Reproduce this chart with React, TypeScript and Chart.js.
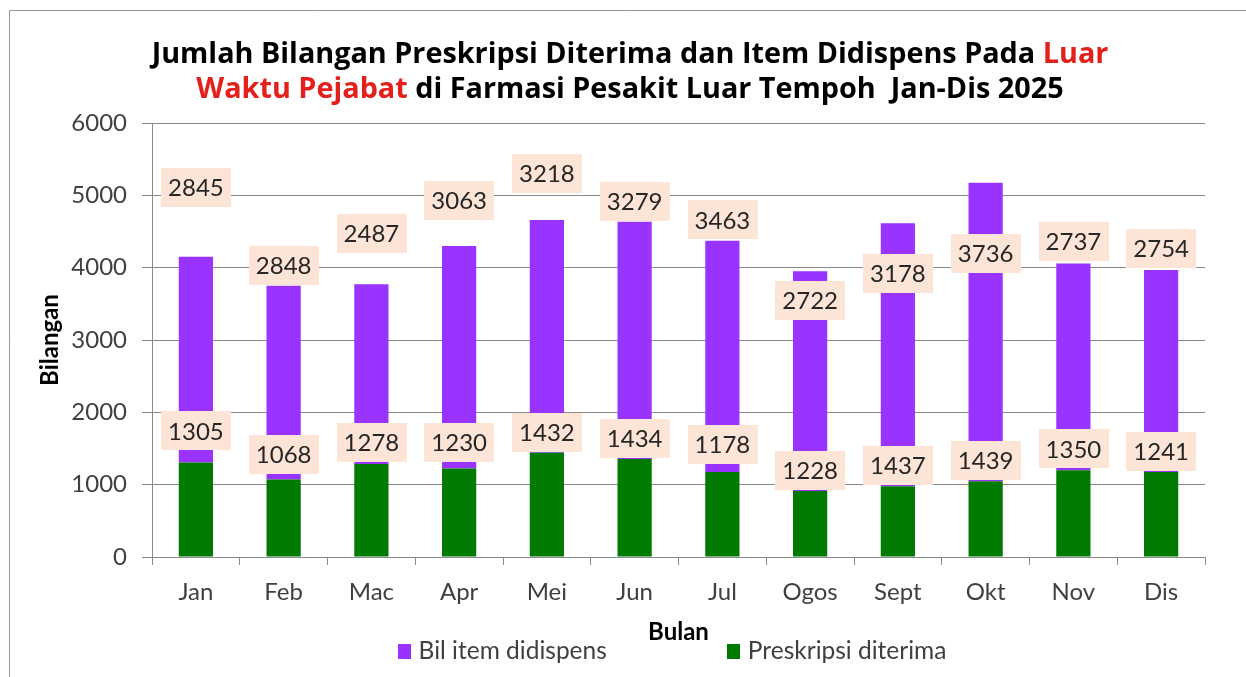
import React, { useEffect, useRef } from "react";
import { Chart, registerables } from "chart.js";

Chart.register(...registerables);

// ---- data ----
const months = ["Jan", "Feb", "Mac", "Apr", "Mei", "Jun", "Jul", "Ogos", "Sept", "Okt", "Nov", "Dis"];

// bar segment heights as drawn in the picture
const prescriptionBar = [1305, 1070, 1285, 1225, 1440, 1356, 1176, 913, 978, 1047, 1199, 1176];
const itemsBar = [2845, 2680, 2487, 3075, 3218, 3280, 3197, 3036, 3635, 4128, 2860, 2791];

// printed data labels
const prescriptionLabel = [1305, 1068, 1278, 1230, 1432, 1434, 1178, 1228, 1437, 1439, 1350, 1241];
const itemsLabel = [2845, 2848, 2487, 3063, 3218, 3279, 3463, 2722, 3178, 3736, 2737, 2754];

// where each label box sits (axis units)
const prescriptionLabelAt = [1744, 1417, 1587, 1583, 1721, 1638, 1559, 1200, 1264, 1338, 1495, 1463];
const itemsLabelAt = [5106, 4032, 4470, 4926, 5305, 4915, 4659, 3552, 3921, 4202, 4359, 4262];

const yMin = 0;
const yMax = 6000;
const yStep = 1000;

const seriesItems = "Bil item didispens";
const seriesPrescription = "Preskripsi diterima";
const xTitle = "Bulan";
const yTitle = "Bilangan";

const titleLines = [
  [
    { text: "Jumlah Bilangan Preskripsi Diterima dan Item Didispens Pada ", red: false },
    { text: "Luar", red: true },
  ],
  [
    { text: "Waktu Pejabat", red: true },
    { text: " di Farmasi Pesakit Luar Tempoh  Jan-Dis 2025", red: false },
  ],
];

// ---- styles ----
const FONT = "Lato, 'Noto Sans', sans-serif";
const TITLE_FONT = "'Open Sans', Lato, sans-serif";
const PURPLE = "#9933FF";
const GREEN = "#007A00";
const RED = "#E3201B";
const GRID = "#8A8A8A";
const TEXT = "#404040";
const LABEL_BG = "#FCE4D6";

const W = 1246;
const H = 677;

const framePlugin = {
  id: "frame",
  beforeDraw(chart: any) {
    const ctx = chart.ctx;
    ctx.save();
    ctx.fillStyle = "#ffffff";
    ctx.fillRect(0, 0, chart.width, chart.height);
    ctx.strokeStyle = "#9a9a9a";
    ctx.lineWidth = 1;
    ctx.beginPath();
    ctx.moveTo(9.5, chart.height);
    ctx.lineTo(9.5, 10.5);
    ctx.lineTo(chart.width, 10.5);
    ctx.stroke();
    ctx.restore();
  },
};

const titlePlugin = {
  id: "mixedTitle",
  afterDraw(chart: any) {
    const ctx = chart.ctx;
    ctx.save();
    ctx.font = `bold 28.8px ${TITLE_FONT}`;
    ctx.textBaseline = "alphabetic";
    ctx.textAlign = "left";
    const baselines = [63, 98];
    const cx = 630;
    titleLines.forEach((parts, li) => {
      const total = parts.reduce((s, p) => s + ctx.measureText(p.text).width, 0);
      let x = cx - total / 2;
      parts.forEach((p) => {
        ctx.fillStyle = p.red ? RED : "#000000";
        ctx.fillText(p.text, x, baselines[li]);
        x += ctx.measureText(p.text).width;
      });
    });
    ctx.restore();
  },
};

const labelPlugin = {
  id: "boxLabels",
  afterDatasetsDraw(chart: any) {
    const ctx = chart.ctx;
    const xs = chart.scales.x;
    const ys = chart.scales.y;
    ctx.save();
    ctx.font = `24px ${FONT}`;
    ctx.textAlign = "center";
    ctx.textBaseline = "middle";
    const draw = (txt: string, cx: number, cy: number) => {
      const w = ctx.measureText(txt).width + 14;
      const h = 39;
      ctx.fillStyle = LABEL_BG;
      ctx.fillRect(Math.round(cx - w / 2), Math.round(cy - h / 2), Math.round(w), h);
      ctx.fillStyle = "#262626";
      ctx.fillText(txt, cx, cy + 1);
    };
    months.forEach((_, i) => {
      const cx = xs.getPixelForValue(i);
      draw(String(prescriptionLabel[i]), cx, ys.getPixelForValue(prescriptionLabelAt[i]));
      draw(String(itemsLabel[i]), cx, ys.getPixelForValue(itemsLabelAt[i]));
    });
    ctx.restore();
  },
};

const legendPlugin = {
  id: "customLegend",
  afterDraw(chart: any) {
    const ctx = chart.ctx;
    ctx.save();
    ctx.font = `24.5px ${FONT}`;
    ctx.textBaseline = "middle";
    ctx.textAlign = "left";
    const items = [...chart.data.datasets].reverse().map((d: any) => ({
      label: d.label as string,
      color: d.backgroundColor as string,
    }));
    const box = 13;
    const gapBox = 8;
    const gapItem = 120;
    const widths = items.map((it) => box + gapBox + ctx.measureText(it.label).width);
    const total = widths.reduce((a, b) => a + b, 0) + gapItem * (items.length - 1);
    let x = 672 - total / 2;
    const cy = 651;
    items.forEach((it, i) => {
      ctx.fillStyle = it.color;
      ctx.fillRect(Math.round(x), cy - 7, box, 15);
      ctx.fillStyle = TEXT;
      ctx.fillText(it.label, x + box + gapBox, cy);
      x += widths[i] + gapItem;
    });
    ctx.restore();
  },
};

export default function App() {
  const ref = useRef<HTMLCanvasElement | null>(null);

  useEffect(() => {
    if (!ref.current) return;
    const chart = new Chart(ref.current, {
      type: "bar",
      data: {
        labels: months,
        datasets: [
          {
            label: seriesPrescription,
            data: prescriptionBar,
            backgroundColor: GREEN,
            borderWidth: 0,
            barPercentage: 0.39,
            categoryPercentage: 1,
          },
          {
            label: seriesItems,
            data: itemsBar,
            backgroundColor: PURPLE,
            borderWidth: 0,
            barPercentage: 0.39,
            categoryPercentage: 1,
          },
        ],
      },
      options: {
        responsive: false,
        animation: false,
        events: [],
        layout: { padding: { left: 0, right: 41, top: 123, bottom: 0 } },
        plugins: {
          legend: { display: false },
          title: { display: false },
          tooltip: { enabled: false },
        },
        scales: {
          x: {
            stacked: true,
            grid: {
              display: true,
              drawOnChartArea: false,
              drawTicks: true,
              tickLength: 8,
              color: GRID,
            },
            border: { display: true, color: GRID },
            ticks: {
              color: TEXT,
              font: { family: FONT, size: 24 },
              padding: 13,
              maxRotation: 0,
              autoSkip: false,
            },
            title: {
              display: true,
              text: xTitle,
              color: "#000000",
              font: { family: FONT, size: 24, weight: "bold" },
              padding: { top: 0, bottom: 30 },
            },
            afterFit: (s: any) => {
              s.height = 120;
            },
          },
          y: {
            stacked: true,
            min: yMin,
            max: yMax,
            grid: { color: GRID, tickLength: 10, drawTicks: true },
            border: { display: true, color: GRID },
            ticks: {
              stepSize: yStep,
              color: TEXT,
              font: { family: FONT, size: 24 },
              padding: 15,
              callback: (v: any) => String(v),
            },
            title: {
              display: true,
              text: yTitle,
              color: "#000000",
              font: { family: FONT, size: 24, weight: "bold" },
              padding: { top: 36, bottom: 0 },
            },
            afterFit: (s: any) => {
              s.width = 152;
            },
          },
        },
      },
      plugins: [framePlugin, labelPlugin, titlePlugin, legendPlugin],
    });
    return () => chart.destroy();
  }, []);

  return (
    <div style={{ position: "fixed", left: 0, top: 0, width: W, height: H, background: "#fff" }}>
      <canvas ref={ref} width={W} height={H} style={{ display: "block" }} />
    </div>
  );
}
